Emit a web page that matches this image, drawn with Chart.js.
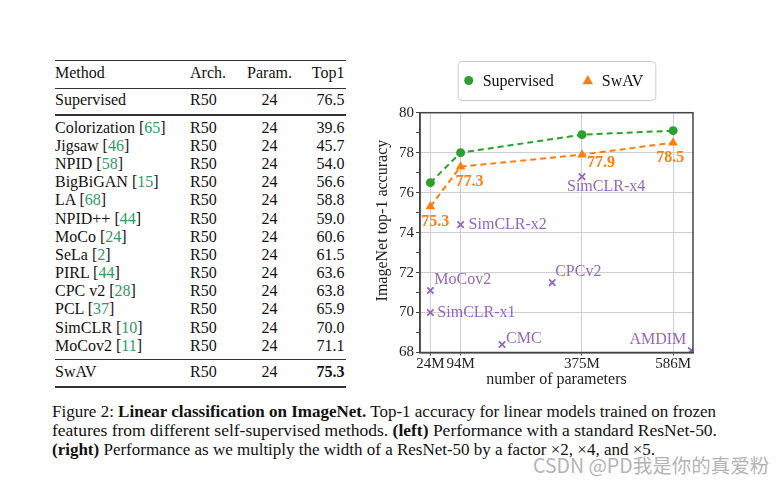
<!DOCTYPE html>
<html>
<head>
<meta charset="utf-8">
<script src="https://cdn.jsdelivr.net/npm/chart.js@4/dist/chart.umd.min.js"></script>
<style>
  html, body { margin: 0; padding: 0; background: #fff; }
  #page { position: relative; width: 784px; height: 482px; overflow: hidden; font-family: "Liberation Serif", serif; color: #111; }
  .cell { position: absolute; font-size: 16px; line-height: 18px; white-space: nowrap; }
  .rule { position: absolute; left: 55px; width: 291px; background: #333; }
  .cite { color: #2e9a62; }
  .cap { position: absolute; left: 52px; font-size: 16px; line-height: 19px; white-space: nowrap; transform-origin: 0 50%; }
  #wm { position: absolute; left: 533px; top: 450px; font-family: "Noto Sans CJK SC", sans-serif; font-size: 19.5px; color: #b4b4b4; white-space: nowrap; }
  #chartBox { position: absolute; left: 370px; top: 55px; width: 374px; height: 340px; }
</style>
</head>
<body>
<div id="page">
  <div id="table"></div>
  <div id="chartBox"><canvas id="accChart" width="374" height="340"></canvas></div>
  <div class="cap" id="cap1">Figure 2: <b>Linear classification on ImageNet.</b> Top-1 accuracy for linear models trained on frozen</div>
  <div class="cap" id="cap2">features from different self-supervised methods. <b>(left)</b> Performance with a standard ResNet-50.</div>
  <div class="cap" id="cap3"><b>(right)</b> Performance as we multiply the width of a ResNet-50 by a factor ×2, ×4, and ×5.</div>
  <div id="wm">CSDN @PD我是你的真爱粉</div>
</div>

<script>
/* ======================================
   TABLE DATA (left)
====================================== */
const methodNames  = ["Supervised", "Colorization", "Jigsaw", "NPID", "BigBiGAN", "LA", "NPID++", "MoCo", "SeLa", "PIRL", "CPC v2", "PCL", "SimCLR", "MoCov2", "SwAV"];
const methodRefs   = [null, 65, 46, 58, 15, 68, 44, 24, 2, 44, 28, 37, 10, 11, null];
const methodArch   = ["R50", "R50", "R50", "R50", "R50", "R50", "R50", "R50", "R50", "R50", "R50", "R50", "R50", "R50", "R50"];
const methodParams = [24, 24, 24, 24, 24, 24, 24, 24, 24, 24, 24, 24, 24, 24, 24];
const methodTop1   = [76.5, 39.6, 45.7, 54.0, 56.6, 58.8, 59.0, 60.6, 61.5, 63.6, 63.8, 65.9, 70.0, 71.1, 75.3];

/* ======================================
   CHART DATA (right)
====================================== */
const paramTicks     = [24, 94, 375, 586];          // M parameters
const supervisedAcc  = [76.5, 78.0, 78.9, 79.1];
const swavAcc        = [75.3, 77.3, 77.9, 78.5];
const otherNames     = ["MoCov2", "SimCLR-x1", "SimCLR-x2", "CMC", "CPCv2", "SimCLR-x4", "AMDIM"];
const otherParams    = [24, 24, 94, 190, 306, 375, 628];
const otherAcc       = [71.1, 70.0, 74.4, 68.4, 71.5, 76.8, 68.1];

// label placement (offsets in px from the point, not data)
const otherLabelPos = [
    { dx: 4,   dy: -11, align: "left" },
    { dx: 7,   dy: 0,   align: "left" },
    { dx: 8,   dy: 0,   align: "left" },
    { dx: 4,   dy: -6,  align: "left" },
    { dx: 3,   dy: -11, align: "left" },
    { dx: -15, dy: 10,  align: "left" },
    { dx: -5,  dy: -11, align: "right" }
];
const swavLabelPos = [
    { dx: -9,  dy: 15, align: "left" },
    { dx: -5,  dy: 15, align: "left" },
    { dx: 5,   dy: 8,  align: "left" },
    { dx: 11,  dy: 15, align: "right" }
];

const GREEN = "#2ca02c";
const ORANGE = "#ff7f0e";
const PURPLE = "#9467bd";
const SERIF = '"Liberation Serif", serif';


/* ======================================
   TABLE BUILDER
====================================== */
function addCell(html, x, yc, align) {
    const d = document.createElement("div");
    d.className = "cell";
    d.innerHTML = html;
    d.style.top = (yc - 9) + "px";
    if (align === "right") d.style.right = (784 - x) + "px";
    else if (align === "center") { d.style.left = (x - 40) + "px"; d.style.width = "80px"; d.style.textAlign = "center"; }
    else d.style.left = x + "px";
    document.getElementById("table").appendChild(d);
}

function addRule(y, h) {
    const r = document.createElement("div");
    r.className = "rule";
    r.style.top = (y - h / 2) + "px";
    r.style.height = h + "px";
    document.getElementById("table").appendChild(r);
}

function drawTable() {
    const colMethod = 55, colArch = 190, colParam = 269.5, colTop1 = 344.5;

    addRule(60.5, 1.8);
    addCell("Method", colMethod, 73);
    addCell("Arch.", colArch, 73);
    addCell("Param.", colParam, 73, "center");
    addCell("Top1", colTop1, 73, "right");
    addRule(88.3, 1.2);

    const last = methodNames.length - 1;
    methodNames.forEach((name, i) => {
        let yc;
        if (i === 0) yc = 100;
        else if (i === last) yc = 372.3;
        else yc = 127.7 + (i - 1) * 18.17;

        const ref = methodRefs[i] != null ? ' [<span class="cite">' + methodRefs[i] + '</span>]' : "";
        const top1 = methodTop1[i].toFixed(1);
        addCell(name + ref, colMethod, yc);
        addCell(methodArch[i], colArch, yc);
        addCell(String(methodParams[i]), colParam, yc, "center");
        addCell(i === last ? "<b>" + top1 + "</b>" : top1, colTop1, yc, "right");
    });

    addRule(115, 1.2);
    addRule(359.3, 1.2);
    addRule(386.7, 1.8);
}


/* ======================================
   CAPTION FITTING
====================================== */
function fitCaption() {
    const targets = { cap1: 664, cap2: 665, cap3: 603 };
    const tops = { cap1: 411.7, cap2: 430.5, cap3: 449.3 };
    Object.keys(targets).forEach(id => {
        const el = document.getElementById(id);
        el.style.top = (tops[id] - 9.5) + "px";
        const w = el.getBoundingClientRect().width;
        el.style.transform = "scaleX(" + (targets[id] / w) + ")";
    });
}


/* ======================================
   CHART PLUGINS
====================================== */
const framePlugin = {
    id: "frame",
    afterDatasetsDraw(chart) {
        const { ctx, chartArea: a } = chart;
        ctx.save();
        ctx.strokeStyle = "#444";
        ctx.lineWidth = 1.5;
        ctx.strokeRect(a.left, a.top, a.right - a.left, a.bottom - a.top);
        ctx.restore();
    }
};

const pointLabelPlugin = {
    id: "pointLabels",
    afterDatasetsDraw(chart) {
        const { ctx } = chart;
        const xs = chart.scales.x, ys = chart.scales.y;
        ctx.save();
        ctx.textBaseline = "middle";

        ctx.font = "16px " + SERIF;
        ctx.fillStyle = PURPLE;
        otherNames.forEach((name, i) => {
            const p = otherLabelPos[i];
            ctx.textAlign = p.align;
            ctx.fillText(name, xs.getPixelForValue(otherParams[i]) + p.dx, ys.getPixelForValue(otherAcc[i]) + p.dy);
        });

        ctx.font = "bold 16px " + SERIF;
        ctx.fillStyle = ORANGE;
        swavAcc.forEach((v, i) => {
            const p = swavLabelPos[i];
            ctx.textAlign = p.align;
            ctx.fillText(v.toFixed(1), xs.getPixelForValue(paramTicks[i]) + p.dx, ys.getPixelForValue(v) + p.dy);
        });
        ctx.restore();
    }
};

const boxLegendPlugin = {
    id: "boxLegend",
    afterDraw(chart) {
        const { ctx, chartArea: a } = chart;
        const items = chart.data.datasets.filter(d => d.inLegend);
        ctx.save();
        ctx.font = "16px " + SERIF;
        const widths = items.map(d => ctx.measureText(d.label).width);
        const padL = 11, markGap = 14, itemGap = 34, padR = 12;
        const boxW = padL + markGap * items.length + widths.reduce((s, w) => s + w, 0) + itemGap * (items.length - 1) + padR;
        const boxH = 39;
        const cx = (a.left + a.right) / 2;
        const left = cx - boxW / 2;
        const top = a.top - 51.7;

        ctx.beginPath();
        ctx.roundRect(left + 0.5, top + 0.5, boxW, boxH, 4);
        ctx.fillStyle = "#fff";
        ctx.fill();
        ctx.strokeStyle = "#cccccc";
        ctx.lineWidth = 1;
        ctx.stroke();

        const cy = top + boxH / 2;
        let x = left + padL;
        items.forEach((d, i) => {
            ctx.fillStyle = d.backgroundColor;
            ctx.beginPath();
            if (d.pointStyle === "triangle") {
                const r = d.pointRadius;
                ctx.moveTo(x, cy - r);
                ctx.lineTo(x + r * 0.95, cy + r * 0.7);
                ctx.lineTo(x - r * 0.95, cy + r * 0.7);
                ctx.closePath();
            } else {
                ctx.arc(x, cy, d.pointRadius, 0, Math.PI * 2);
            }
            ctx.fill();
            ctx.fillStyle = "#111";
            ctx.textAlign = "left";
            ctx.textBaseline = "middle";
            ctx.fillText(d.label, x + markGap, cy + 1);
            x += markGap + widths[i] + itemGap;
        });
        ctx.restore();
    }
};


/* ======================================
   CHART BUILDER
====================================== */
function drawChart() {
    const ctx = document.getElementById("accChart").getContext("2d");
    const tickFont = { family: SERIF, size: 15 };

    new Chart(ctx, {
        type: "scatter",
        data: {
            datasets: [
                {
                    label: "Supervised",
                    inLegend: true,
                    data: paramTicks.map((p, i) => ({ x: p, y: supervisedAcc[i] })),
                    showLine: true,
                    borderColor: GREEN,
                    backgroundColor: GREEN,
                    borderWidth: 2,
                    borderDash: [6, 4],
                    pointStyle: "circle",
                    pointRadius: 4.5,
                    pointBorderWidth: 0,
                    order: 2
                },
                {
                    label: "SwAV",
                    inLegend: true,
                    data: paramTicks.map((p, i) => ({ x: p, y: swavAcc[i] })),
                    showLine: true,
                    borderColor: ORANGE,
                    backgroundColor: ORANGE,
                    borderWidth: 2,
                    borderDash: [6, 4],
                    pointStyle: "triangle",
                    pointRadius: 5.5,
                    pointBorderWidth: 0,
                    order: 1
                },
                {
                    label: "others",
                    data: otherParams.map((p, i) => ({ x: p, y: otherAcc[i] })),
                    showLine: false,
                    borderColor: PURPLE,
                    backgroundColor: PURPLE,
                    pointStyle: "crossRot",
                    pointRadius: 4.5,
                    pointBorderWidth: 1.8,
                    order: 3
                }
            ]
        },
        options: {
            responsive: false,
            animation: false,
            devicePixelRatio: 1,
            layout: { padding: { left: 0, right: 51, top: 57.7, bottom: 0 } },
            plugins: {
                legend: { display: false },
                tooltip: { enabled: false }
            },
            scales: {
                x: {
                    type: "linear",
                    min: 0,
                    max: 632,
                    afterBuildTicks: scale => { scale.ticks = paramTicks.map(v => ({ value: v })); },
                    afterFit: scale => { scale.height = 42.5; },
                    ticks: {
                        autoSkip: false,
                        maxRotation: 0,
                        minRotation: 0,
                        padding: 0,
                        color: "#222",
                        font: tickFont,
                        callback: v => v + "M"
                    },
                    grid: {
                        color: "#cfcfcf",
                        lineWidth: 1,
                        borderDash: [3, 3],
                        tickColor: "#444",
                        tickLength: 3,
                        tickBorderDash: []
                    },
                    border: { color: "#444", width: 1.5 },
                    title: {
                        display: true,
                        text: "number of parameters",
                        color: "#222",
                        font: { family: SERIF, size: 16 },
                        padding: { top: 0, bottom: 5.4 }
                    }
                },
                y: {
                    min: 68,
                    max: 80,
                    afterFit: scale => { scale.width = 50; },
                    ticks: {
                        stepSize: 1,
                        autoSkip: false,
                        padding: 2,
                        color: "#222",
                        font: tickFont,
                        callback: v => (v % 2 === 0 ? v : "")
                    },
                    grid: {
                        color: c => (c.tick && c.tick.value % 2 === 0 ? "#cfcfcf" : "rgba(0,0,0,0)"),
                        lineWidth: 1,
                        borderDash: [3, 3],
                        tickColor: "#444",
                        tickLength: 4,
                        tickBorderDash: []
                    },
                    border: { color: "#444", width: 1.5 },
                    title: {
                        display: true,
                        // leading spaces lift the label, as in the original figure
                        text: "      ImageNet top-1 accuracy",
                        color: "#222",
                        font: { family: SERIF, size: 16 },
                        padding: { top: 3.4, bottom: 0 }
                    }
                }
            }
        },
        plugins: [framePlugin, pointLabelPlugin, boxLegendPlugin]
    });
}


/* INITIAL LOAD */
drawTable();
fitCaption();
drawChart();
</script>
</body>
</html>
